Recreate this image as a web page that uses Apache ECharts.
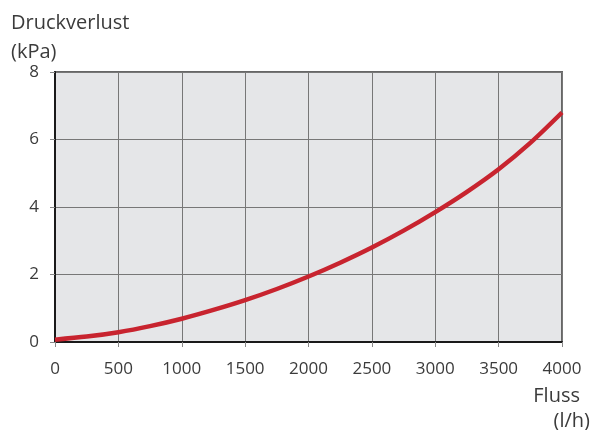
<!DOCTYPE html>
<html>
<head>
<meta charset="utf-8">
<script src="https://cdn.jsdelivr.net/npm/echarts@6/dist/echarts.min.js"></script>
<style>
html,body{margin:0;padding:0;background:#fff;}
#main{width:590px;height:430px;}
</style>
</head>
<body>
<div id="main"></div>
<script>
// Durchfluss (l/h) und Druckverlust (kPa)
var flow = [0, 250, 500, 750, 1000, 1250, 1500, 1750, 2000, 2250, 2500, 2750, 3000, 3250, 3500, 3750, 4000];
var loss = [0.07, 0.16, 0.29, 0.47, 0.69, 0.95, 1.24, 1.57, 1.94, 2.35, 2.80, 3.30, 3.85, 4.45, 5.12, 5.90, 6.80];

var yTitle = ['Druckverlust', '(kPa)'];
var xTitle = ['Fluss', '(l/h)'];

var pts = [];
for (var i = 0; i < flow.length; i++) {
	pts.push([flow[i], loss[i]]);
}

var font = '"Open Sans", "Noto Sans", sans-serif';
var txtColor = '#3b3b3b';

var option = {
	animation: false,
	backgroundColor: '#fff',
	grid: {
		left: 55, right: 28, top: 72, bottom: 88,
		show: true,
		backgroundColor: '#e5e6e8',
		borderColor: '#666',
		borderWidth: 2
	},
	xAxis: {
		type: 'value',
		min: 0, max: 4000, interval: 500,
		axisLine: { show: true, lineStyle: { color: '#1a1a1a', width: 2 } },
		axisTick: { show: true, length: 5, lineStyle: { color: '#888' } },
		axisLabel: {
			color: txtColor, fontSize: 17, fontFamily: font, margin: 19,
			formatter: function (v) { return String(v); }
		},
		splitLine: { show: true, lineStyle: { color: '#777', width: 1 } }
	},
	yAxis: {
		type: 'value',
		min: 0, max: 8, interval: 2,
		axisLine: { show: true, lineStyle: { color: '#1a1a1a', width: 2 } },
		axisTick: { show: true, length: 5, lineStyle: { color: '#888' } },
		axisLabel: { color: txtColor, fontSize: 17, fontFamily: font, margin: 16 },
		splitLine: { show: true, lineStyle: { color: '#777', width: 1 } }
	},
	graphic: [
		{ type: 'text', left: 11, top: 13, style: { text: yTitle[0], fill: txtColor, font: '20px ' + font } },
		{ type: 'text', left: 11, top: 42, style: { text: yTitle[1], fill: txtColor, font: '20px ' + font } },
		{ type: 'text', right: 10, top: 386, style: { text: xTitle[0], fill: txtColor, font: '20px ' + font } },
		{ type: 'text', right: 0, top: 411, style: { text: xTitle[1], fill: txtColor, font: '20px ' + font } }
	],
	series: [{
		type: 'line',
		data: pts,
		smooth: 0.3,
		showSymbol: false,
		lineStyle: { color: '#c8242f', width: 4.5 }
	}]
};

var myChart = echarts.init(document.getElementById('main'));
myChart.setOption(option);
</script>
</body>
</html>
